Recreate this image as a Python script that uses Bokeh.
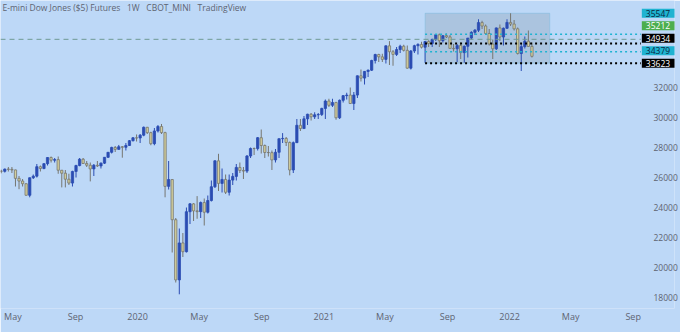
import pandas as pd
from bokeh.plotting import figure
from bokeh.models import (ColumnDataSource, Range1d, FixedTicker, CustomJSTickFormatter,
                          BoxAnnotation, Label)
from bokeh.embed import file_html
from bokeh.resources import INLINE

# ---------------- data (weekly candles, E-mini Dow $5 futures) ----------------
first_week = "2019-04-08"

opens = [
    26425, 26412, 26559, 26543, 26505, 25942, 25764, 25586, 24815, 25984, 26090, 26719, 26600,
    26922, 27332, 27154, 27192, 26485, 26287, 25886, 25629, 26403, 26797, 27220, 26935, 26820,
    26573, 26817, 26770, 26958, 27347, 27681, 28005, 27876, 28051, 28015, 28135, 28455, 28645,
    28634, 28823, 29348, 28990, 28256, 29102, 29398, 28992, 25409, 25864, 23185, 19174, 21637,
    21053, 23719, 24242, 23775, 23724, 24331, 23685, 24465, 25383, 27111, 25606, 25871, 25016,
    25827, 26075, 26672, 26470, 26428, 27433, 27931, 27930, 28654, 28133, 27666, 27657, 27174,
    27683, 28587, 28606, 28336, 26502, 28323, 29480, 29263, 29910, 30218, 30046, 30179, 30200,
    30606, 31098, 30814, 30997, 29983, 31148, 31458, 31494, 30932, 31496, 32779, 32628, 33073,
    33153, 33800, 34200, 34043, 33875, 34778, 34382, 34208, 34529, 34756, 34480, 33290, 34433,
    34786, 34870, 34687, 35061, 34935, 35208, 35515, 35120, 35455, 35369, 34608, 34584, 34798,
    34326, 34746, 35295, 35677, 35820, 36328, 36100, 35602, 34899, 34580, 35971, 35365, 35950,
    36338, 36231, 35912, 34265, 34725, 35089, 34738,
]
highs = [
    26520, 26600, 26700, 26700, 26520, 26100, 25900, 25600, 26000, 26200, 26900, 26800, 26960,
    27350, 27400, 27300, 27400, 26500, 26500, 26250, 26450, 26850, 27300, 27300, 27100, 27000,
    26900, 27100, 27000, 27350, 27700, 28050, 28100, 28170, 28100, 28300, 28500, 28700, 28870,
    28900, 29400, 29370, 29050, 29300, 29500, 29568, 29050, 27100, 25900, 23300, 22600, 22300,
    24000, 24300, 24300, 24760, 24400, 24600, 24800, 25800, 27150, 27580, 26600, 26200, 26200,
    26300, 26900, 27000, 26700, 27500, 28000, 28000, 28700, 29200, 28200, 28100, 27800, 27900,
    28600, 28960, 28700, 28400, 28400, 29900, 29900, 30100, 30250, 30300, 30350, 30300, 30650,
    31200, 31250, 31250, 31050, 31200, 31500, 31650, 32000, 31700, 32800, 33200, 33100, 33200,
    33850, 34250, 34250, 34250, 34800, 35090, 34500, 34700, 34850, 34850, 34800, 34500, 34850,
    34950, 35050, 35100, 35150, 35250, 35550, 35600, 35500, 35600, 35500, 34900, 34900, 35000,
    34800, 35300, 35750, 35900, 36550, 36450, 36200, 35900, 35200, 36000, 36200, 36000, 36550,
    36950, 36500, 36000, 34900, 35400, 35800, 35000,
]
lows = [
    26280, 26330, 26400, 26300, 25400, 25220, 25400, 24800, 24680, 25900, 26000, 26400, 26550,
    26800, 27000, 27000, 26250, 25340, 25340, 25500, 25400, 26000, 26750, 26900, 26700, 25740,
    26100, 26700, 26600, 26900, 27300, 27600, 27700, 27850, 27320, 27800, 28100, 28400, 28400,
    28300, 28750, 28900, 28150, 28150, 29000, 28900, 24680, 25200, 21000, 19000, 18213, 20700,
    21000, 22900, 23100, 23250, 23300, 22800, 23600, 24400, 25300, 25100, 25000, 24900, 24800,
    25500, 25800, 26300, 25900, 26300, 27300, 27500, 27800, 27600, 27300, 27400, 26500, 27000,
    27300, 28300, 28100, 26143, 26300, 28300, 29100, 29250, 29500, 29800, 29900, 29900, 30100,
    29900, 30700, 30700, 29850, 29900, 31000, 31200, 30900, 30500, 31300, 32400, 32200, 32700,
    33100, 33600, 33700, 33700, 33600, 33500, 33450, 34100, 34300, 34400, 33250, 33200, 34300,
    34200, 34600, 33650, 34700, 34700, 35100, 34700, 35000, 35300, 34600, 34400, 33700, 33900,
    33650, 34000, 35200, 35500, 35700, 35900, 35500, 34800, 33900, 34500, 35100, 34800, 35900,
    36100, 35800, 34200, 33100, 34600, 34700, 34000,
]
closes = [
    26412, 26559, 26543, 26505, 25942, 25764, 25586, 24815, 25984, 26090, 26719, 26600, 26922,
    27332, 27154, 27192, 26485, 26287, 25886, 25629, 26403, 26797, 27220, 26935, 26820, 26573,
    26817, 26770, 26958, 27347, 27681, 28005, 27876, 28051, 28015, 28135, 28455, 28645, 28634,
    28823, 29348, 28990, 28256, 29102, 29398, 28992, 25409, 25864, 23185, 19174, 21637, 21053,
    23719, 24242, 23775, 23724, 24331, 23685, 24465, 25383, 27111, 25606, 25871, 25016, 25827,
    26075, 26672, 26470, 26428, 27433, 27931, 27930, 28654, 28133, 27666, 27657, 27174, 27683,
    28587, 28606, 28336, 26502, 28323, 29480, 29263, 29910, 30218, 30046, 30179, 30200, 30606,
    31098, 30814, 30997, 29983, 31148, 31458, 31494, 30932, 31496, 32779, 32628, 33073, 33153,
    33800, 34200, 34043, 33875, 34778, 34382, 34208, 34529, 34756, 34480, 33290, 34433, 34786,
    34870, 34687, 35061, 34935, 35208, 35515, 35120, 35455, 35369, 34608, 34584, 34798, 34326,
    34746, 35295, 35677, 35820, 36328, 36100, 35602, 34899, 34580, 35971, 35365, 35950, 36338,
    36231, 35912, 34265, 34725, 35089, 34738, 34079,
]

# horizontal levels drawn on the chart
level_values = [35547, 35212, 34934, 34379, 33623]
level_kinds = ["cyan", "green", "black", "cyan", "black"]
range_start = "2021-07-19"
range_end = "2022-03-21"

# axis ticks
x_tick_dates = ["2019-05-01", "2019-09-01", "2020-01-01", "2020-05-01", "2020-09-01",
                "2021-01-01", "2021-05-01", "2021-09-01", "2022-01-01", "2022-05-01",
                "2022-09-01"]
x_tick_labels = ["May", "Sep", "2020", "May", "Sep", "2021", "May", "Sep", "2022", "May", "Sep"]
y_ticks = [18000, 20000, 22000, 24000, 26000, 28000, 30000, 32000]

title_text = "E-mini Dow Jones ($5) Futures \u00a0 1W \u00a0 CBOT_MINI \u00a0 TradingView"

# ---------------- styling / layout ----------------
BG = "#bdd8f7"
UP = "#2b4cb2"
DOWN = "#d3cf9c"
DOWN_EDGE = "#767670"
TXT = "#5e6472"
FONT = "Open Sans"
KIND_COLOR = {"cyan": "#1fb3d1", "green": "#4cae4f", "black": "#000000"}
KIND_TEXT = {"cyan": "#0b2540", "green": "#ffffff", "black": "#ffffff"}

x_start = pd.Timestamp("2019-04-06 14:00")
pane_right = pd.Timestamp("2022-09-16")          # where the price scale begins
x_end = x_start + pd.Timedelta(days=1324.6)      # right edge of the canvas
FRAME_H = 308

dates = pd.date_range(first_week, periods=len(closes), freq="W-MON")
up = [c >= o for o, c in zip(opens, closes)]
src = ColumnDataSource(dict(
    date=dates,
    top=[max(o, c) for o, c in zip(opens, closes)],
    bottom=[min(o, c) for o, c in zip(opens, closes)],
    high=highs, low=lows,
    fill=[UP if u else DOWN for u in up],
    edge=[UP if u else DOWN_EDGE for u in up],
    wick=[UP if u else DOWN_EDGE for u in up],
))

p = figure(width=680, height=332, x_axis_type="datetime", y_axis_location="right",
           x_range=Range1d(x_start, x_end), y_range=Range1d(17267, 37800),
           output_backend="svg", toolbar_location=None,
           background_fill_color=BG, border_fill_color=BG, outline_line_color=None,
           min_border_left=0, min_border_top=0, min_border_right=0, min_border_bottom=24)
p.grid.visible = False

# range box
box_top = max(h for d, h in zip(dates, highs) if d >= pd.Timestamp(range_start))
p.add_layout(BoxAnnotation(left=pd.Timestamp(range_start), right=pd.Timestamp(range_end),
                           bottom=min(level_values), top=box_top,
                           fill_color="#8a9ab0", fill_alpha=0.33,
                           line_color="#58b4d8", line_width=1, level="underlay"))

# candles
day_ms = 86400000
p.segment(x0="date", y0="high", x1="date", y1="low", line_color="wick", line_width=1, source=src)
p.vbar(x="date", width=4.5 * day_ms, top="top", bottom="bottom", fill_color="fill",
       line_color="edge", line_width=0.8, source=src)

# levels
for v, k in zip(level_values, level_kinds):
    if k == "green":
        p.segment(x0=[x_start], x1=[pane_right], y0=[v], y1=[v], line_color="#6f9a94",
                  line_dash="5 4", line_width=1)
    else:
        p.segment(x0=[pd.Timestamp(range_start)], x1=[pane_right], y0=[v], y1=[v],
                  line_color=KIND_COLOR[k], line_dash="2 3",
                  line_width=2 if k == "black" else 1.6)

# stacked price labels on the price scale
gap = 830
placed = {}
prev = None
for v in sorted(level_values):
    d = v if prev is None else max(v, prev + gap)
    placed[v] = d
    prev = d
for v, k in zip(level_values, level_kinds):
    p.add_layout(Label(x=pane_right, y=placed[v], x_offset=1, text=str(v),
                       text_font=FONT, text_font_size="8.5px", text_color=KIND_TEXT[k],
                       text_baseline="middle", text_align="left",
                       background_fill_color=KIND_COLOR[k],
                       padding=dict(left=4, right=9, top=1, bottom=1)))

# title
p.add_layout(Label(x=2, y=FRAME_H - 6.5, x_units="screen", y_units="screen", text=title_text,
                   text_font=FONT, text_font_size="8.5px", text_color=TXT,
                   text_baseline="middle"))

# axes
tick_ms = [float(pd.Timestamp(t).value // 10**6) for t in x_tick_dates]
xa = p.xaxis[0]
xa.ticker = FixedTicker(ticks=tick_ms)
xa.formatter = CustomJSTickFormatter(args=dict(tvals=tick_ms, tlabels=x_tick_labels), code="""
    for (let i = 0; i < tvals.length; i++) {
        if (Math.abs(tvals[i] - tick) < 1e6) { return tlabels[i]; }
    }
    return "";
""")
ya = p.yaxis[0]
ya.ticker = FixedTicker(ticks=y_ticks)
for ax in (xa, ya):
    ax.axis_line_color = None
    ax.major_tick_line_color = None
    ax.minor_tick_line_color = None
    ax.major_label_text_color = TXT
    ax.major_label_text_font = FONT
xa.major_label_text_font_size = "9px"
xa.major_label_standoff = -5
ya.major_label_text_font_size = "8.5px"
ya.major_label_standoff = -27

open("out.html", "w").write(file_html(p, INLINE))
